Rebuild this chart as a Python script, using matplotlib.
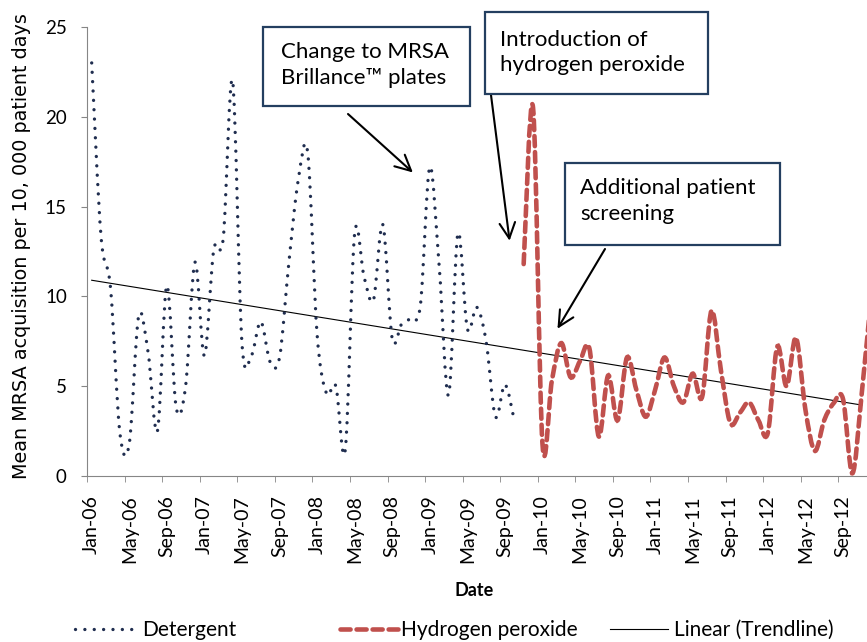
import matplotlib
matplotlib.use('Agg')
import matplotlib.pyplot as plt
import numpy as np
from matplotlib.path import Path
from matplotlib.patches import PathPatch, Rectangle
from matplotlib.lines import Line2D

# monthly values, Jan-06 onwards
detergent = [23.0, 13.3, 10.5, 2.4, 1.8, 8.9, 6.9, 2.5, 10.6, 3.8, 5.0, 11.9,
             6.7, 12.6, 13.2, 22.0, 7.4, 6.7, 8.6, 6.35, 6.6, 11.9, 16.5, 18.0,
             7.9, 4.6, 5.0, 1.45, 13.5, 11.1, 9.8, 14.0, 7.65, 8.45, 8.8, 9.5,
             17.2, 11.7, 4.5, 13.5, 8.2, 9.4, 7.5, 3.3, 5.1, 3.1]
peroxide = [11.8, 20.5, 1.8, 5.3, 7.4, 5.5, 6.4, 7.1, 2.2, 5.6, 3.1, 6.6,
            4.8, 3.3, 4.8, 6.6, 5.0, 4.1, 5.7, 4.4, 9.2, 5.9, 2.95, 3.5,
            4.1, 3.1, 2.4, 7.2, 5.0, 7.7, 3.7, 1.4, 3.1, 4.05, 4.3, 0.15,
            4.6, 10.0]
trend_ends = [10.9, 3.95]          # trendline value at Jan-06 and Nov-12
trend_months = [0, 82]
month_names = ['Jan', 'May', 'Sep']
years = ['06', '07', '08', '09', '10', '11', '12']

det_x = np.arange(len(detergent))
per_x = np.arange(len(peroxide)) + len(detergent)

tick_pos = np.arange(0, 84, 4)
tick_labels = [f'{month_names[(p // 4) % 3]}-{years[p // 12]}' for p in tick_pos]

plt.rcParams['font.family'] = ['Lato', 'DejaVu Sans']

W, H = 867, 642


def smooth_path(xs, ys):
    # Excel-style smoothed line: cubic bezier through every point
    pts = np.column_stack([xs, ys]).astype(float)
    n = len(pts)
    verts = [pts[0]]
    codes = [Path.MOVETO]
    for i in range(n - 1):
        p0 = pts[i - 1] if i > 0 else pts[i]
        p1 = pts[i]
        p2 = pts[i + 1]
        p3 = pts[i + 2] if i + 2 < n else pts[i + 1]
        verts += [p1 + (p2 - p0) / 6, p2 - (p3 - p1) / 6, p2]
        codes += [Path.CURVE4] * 3
    return Path(verts, codes)


fig = plt.figure(figsize=(W / 100, H / 100), dpi=100)
ax = fig.add_axes([87 / W, 166 / H, 1 - 87 / W, 449 / H])

navy = '#1F2D4F'
red = '#C0504D'
dot_style = (0, (0.01, 2.8))
dash_style = (0, (2.2, 1.3))

ax.add_patch(PathPatch(smooth_path(det_x, detergent), fill=False, ec=navy, lw=2.4,
                       ls=dot_style, capstyle='round', zorder=3))
ax.add_patch(PathPatch(smooth_path(per_x, peroxide), fill=False, ec=red, lw=3.3,
                       ls=dash_style, capstyle='round', zorder=3))
ax.plot(trend_months, trend_ends, color='black', lw=0.8, zorder=2)

ax.set_xlim(-0.5, 82.56)
ax.set_ylim(0, 25)
ax.set_yticks(range(0, 26, 5))
ax.set_xticks(tick_pos)
ax.set_xticklabels(tick_labels, rotation=90, fontsize=14)
ax.set_xticks(np.arange(-0.5, 83, 4), minor=True)
ax.tick_params(axis='x', which='major', length=0, pad=14)
ax.tick_params(axis='x', which='minor', length=4.5, color='#868686', direction='out')
ax.tick_params(axis='y', length=4.5, color='#868686', direction='out', pad=10, labelsize=13.5)
for s in ['top', 'right']:
    ax.spines[s].set_visible(False)
for s in ['left', 'bottom']:
    ax.spines[s].set_color('#868686')

fig.text(22 / W, 1 - 246 / H, 'Mean MRSA acquisition per 10, 000 patient days',
         rotation=90, ha='center', va='center', fontsize=13.8, family='DejaVu Sans')
fig.text(474 / W, 1 - 591 / H, 'Date', ha='center', va='center', fontsize=13,
         fontweight='bold')

# annotation boxes (left, top, right, bottom in pixels), text anchor, arrow start, arrow tip
notes = [('Change to MRSA\nBrillance\u2122 plates', (263, 27, 470, 106), (281, 65),
          (348, 114), (34.2, 16.9)),
         ('Introduction of\nhydrogen peroxide', (485, 12, 708, 94), (500, 52.5),
          (491, 95), (44.5, 13.1)),
         ('Additional patient\nscreening', (565, 163, 780, 245), (580, 201),
          (605, 249), (49.6, 8.2))]
for text, (x0, y0, x1, y1), (tx, ty), start, tip in notes:
    fig.patches.append(Rectangle((x0 / W, 1 - y1 / H), (x1 - x0) / W, (y1 - y0) / H,
                                 transform=fig.transFigure, fc='white', ec='#243F60',
                                 lw=1.6, zorder=5))
    fig.text(tx / W, 1 - ty / H, text, ha='left', va='center', fontsize=16,
             linespacing=1.35, zorder=6)
    ax.annotate('', xy=tip, xycoords='data',
                xytext=(start[0] / W, 1 - start[1] / H), textcoords='figure fraction',
                arrowprops=dict(arrowstyle='->', color='black', lw=1.5, mutation_scale=28,
                                shrinkA=0, shrinkB=0), zorder=6)

# legend, one entry at a time (x of handle start in pixels)
entries = [(Line2D([], [], color=navy, lw=2.4, ls=dot_style, dash_capstyle='round'),
            'Detergent', 75, 0.4),
           (Line2D([], [], color=red, lw=3.3, ls=dash_style, dash_capstyle='round'),
            'Hydrogen peroxide', 340, 0.15),
           (Line2D([], [], color='black', lw=0.8), 'Linear (Trendline)', 610, 0.25)]
for handle, label, lx, tpad in entries:
    fig.legend([handle], [label], loc='center left', bbox_to_anchor=(lx / W, 12 / H),
               frameon=False, fontsize=15, handlelength=2.8, handletextpad=tpad,
               borderpad=0, borderaxespad=0)

fig.savefig('out.png', dpi=100)
